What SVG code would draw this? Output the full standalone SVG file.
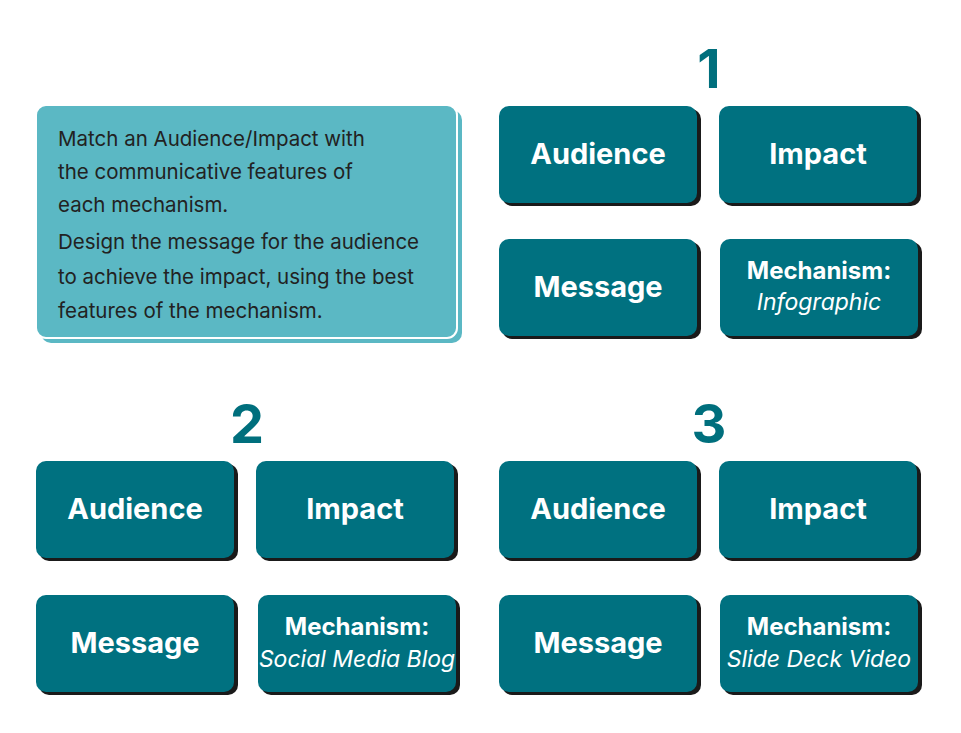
<svg xmlns="http://www.w3.org/2000/svg" width="961" height="733" viewBox="0 0 961 733">
<style>
.b{fill:#007180}.s{fill:#1a1a1a}
.t{font-family:Inter,"Liberation Sans",sans-serif;font-weight:700;fill:#fff;text-anchor:middle;font-size:29px}
.m{font-family:Inter,"Liberation Sans",sans-serif;font-weight:700;fill:#fff;text-anchor:middle;font-size:24px}
.i{font-family:Inter,"Liberation Sans",sans-serif;font-style:italic;fill:#fff;text-anchor:middle;font-size:23px}
.n{font-family:Inter,"Liberation Sans",sans-serif;font-weight:700;fill:#006f7d;text-anchor:middle;font-size:54px}
.p{font-family:Inter,"Liberation Sans",sans-serif;fill:#222;font-size:20.5px}
</style>
<rect width="961" height="733" fill="#fff"/>
<g id="info">
<rect x="41" y="110" width="421" height="233" rx="10" fill="#5bb8c4"/>
<rect x="36" y="105" width="421" height="233" rx="10" fill="#5bb8c4" stroke="#fff" stroke-width="2"/>
<text class="p" x="58" y="146">Match an Audience/Impact with</text>
<text class="p" x="58" y="179">the communicative features of</text>
<text class="p" x="58" y="212">each mechanism.</text>
<text class="p" x="58" y="249">Design the message for the audience</text>
<text class="p" x="58" y="284">to achieve the impact, using the best</text>
<text class="p" x="58" y="318">features of the mechanism.</text>
</g>
<text class="n" x="709" y="88">1</text>
<text class="n" x="247" y="443">2</text>
<text class="n" x="709" y="443">3</text>
<g id="a1"><rect class="s" x="502" y="109" width="199" height="97" rx="10"/><rect class="b" x="499" y="106" width="198" height="97" rx="10"/><text class="t" x="598" y="164">Audience</text></g>
<g id="i1"><rect class="s" x="722" y="109" width="199" height="97" rx="10"/><rect class="b" x="719" y="106" width="198" height="97" rx="10"/><text class="t" x="818" y="164">Impact</text></g>
<g id="m1"><rect class="s" x="502" y="242" width="199" height="97" rx="10"/><rect class="b" x="499" y="239" width="198" height="97" rx="10"/><text class="t" x="598" y="297">Message</text></g>
<g id="k1"><rect class="s" x="723" y="242" width="199" height="97" rx="10"/><rect class="b" x="720" y="239" width="198" height="97" rx="10"/><text class="m" x="819" y="279">Mechanism:</text><text class="i" x="819" y="310">Infographic</text></g>
<g id="a2"><rect class="s" x="39" y="464" width="199" height="97" rx="10"/><rect class="b" x="36" y="461" width="198" height="97" rx="10"/><text class="t" x="135" y="519">Audience</text></g>
<g id="i2"><rect class="s" x="259" y="464" width="199" height="97" rx="10"/><rect class="b" x="256" y="461" width="198" height="97" rx="10"/><text class="t" x="355" y="519">Impact</text></g>
<g id="m2"><rect class="s" x="39" y="598" width="199" height="97" rx="10"/><rect class="b" x="36" y="595" width="198" height="97" rx="10"/><text class="t" x="135" y="653">Message</text></g>
<g id="k2"><rect class="s" x="261" y="598" width="199" height="97" rx="10"/><rect class="b" x="258" y="595" width="198" height="97" rx="10"/><text class="m" x="357" y="635">Mechanism:</text><text class="i" x="357" y="667">Social Media Blog</text></g>
<g id="a3"><rect class="s" x="502" y="464" width="199" height="97" rx="10"/><rect class="b" x="499" y="461" width="198" height="97" rx="10"/><text class="t" x="598" y="519">Audience</text></g>
<g id="i3"><rect class="s" x="722" y="464" width="199" height="97" rx="10"/><rect class="b" x="719" y="461" width="198" height="97" rx="10"/><text class="t" x="818" y="519">Impact</text></g>
<g id="m3"><rect class="s" x="502" y="598" width="199" height="97" rx="10"/><rect class="b" x="499" y="595" width="198" height="97" rx="10"/><text class="t" x="598" y="653">Message</text></g>
<g id="k3"><rect class="s" x="723" y="598" width="199" height="97" rx="10"/><rect class="b" x="720" y="595" width="198" height="97" rx="10"/><text class="m" x="819" y="635">Mechanism:</text><text class="i" x="819" y="667">Slide Deck Video</text></g>
<g id="connectors"/>
</svg>
